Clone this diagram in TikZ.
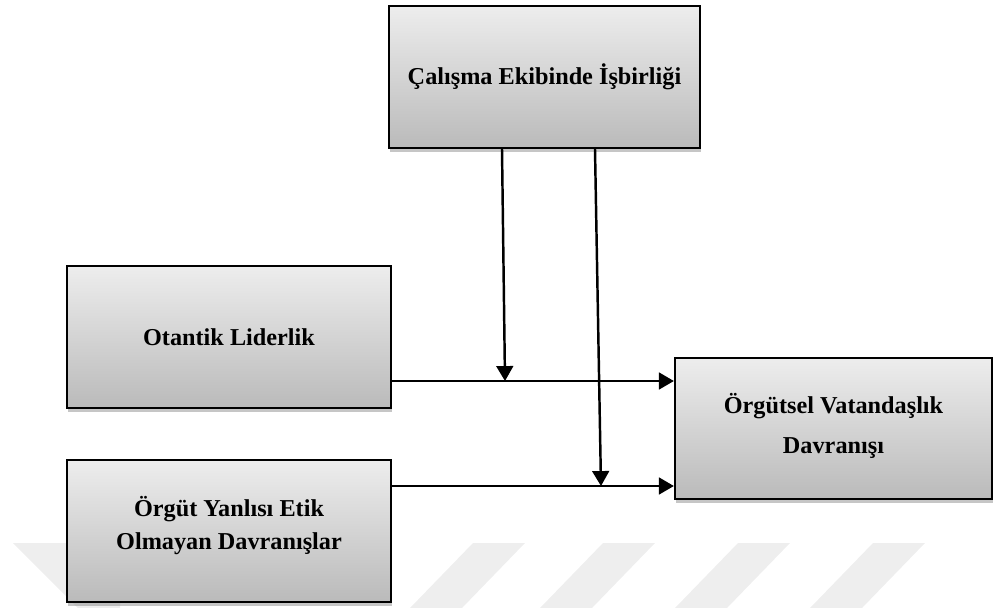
\documentclass[tikz,border=0pt]{standalone}
\usepackage{fontspec}
\setmainfont{Liberation Serif}
\usetikzlibrary{arrows.meta, shadows}

\definecolor{wmgray}{RGB}{238,238,238}

\tikzset{
	box/.style={draw=black, line width=1.3pt, top color=black!7, bottom color=black!27,
		drop shadow={shadow xshift=0.6pt, shadow yshift=-2.4pt, opacity=0.45},
		font=\fontsize{13.8}{19}\selectfont\bfseries, align=center, inner sep=0pt},
	arr/.style={-{Triangle[length=8.5pt, width=9.5pt]}, line width=1.4pt}
}

\begin{document}
\begin{tikzpicture}[x=0.02cm, y=-0.02cm]
		\useasboundingbox (0,0) rectangle (994,608);

		% Faint stripes at the bottom
		\foreach \s in {473, 603, 738, 873} {
				\fill[wmgray] (\s,543) -- (\s+52,543) -- (\s-11,608) -- (\s-63,608) -- cycle;
			}
		\fill[wmgray] (13,543) -- (120,543) -- (120,608) -- (78,608) -- cycle;

		% Boxes
		\node[box, minimum width=6.22cm, minimum height=2.84cm] (ceb) at (544.5,77) {Çalışma Ekibinde İşbirliği};
		\node[box, minimum width=6.48cm, minimum height=2.84cm] (ol) at (229,337) {Otantik Liderlik};
		\node[box, minimum width=6.48cm, minimum height=2.84cm] (oye) at (229,531) {Örgüt Yanlısı Etik\\Olmayan Davranışlar\\[-10pt]\mbox{}};
		\node[box, minimum width=6.34cm, minimum height=2.82cm, font=\fontsize{13.8}{23}\selectfont\bfseries] (ovd) at (833.5,428.5) {Örgütsel Vatandaşlık\\Davranışı\\[-17pt]\mbox{}};

		% Levels of the arrows
		\coordinate (y1) at (0,381);
		\coordinate (y2) at (0,486);
		\coordinate (v1) at (502,0);
		\coordinate (v2) at (595,0);
		\coordinate (m1) at (505,381);
		\coordinate (m2) at (601,486);

		% Arrows
		\draw[arr] (ol.east |- y1) -- (ovd.west |- y1);
		\draw[arr] (oye.east |- y2) -- (ovd.west |- y2);
		\draw[arr] (v1 |- ceb.south) -- (m1);
		\draw[arr] (v2 |- ceb.south) -- (m2);
	\end{tikzpicture}
\end{document}
